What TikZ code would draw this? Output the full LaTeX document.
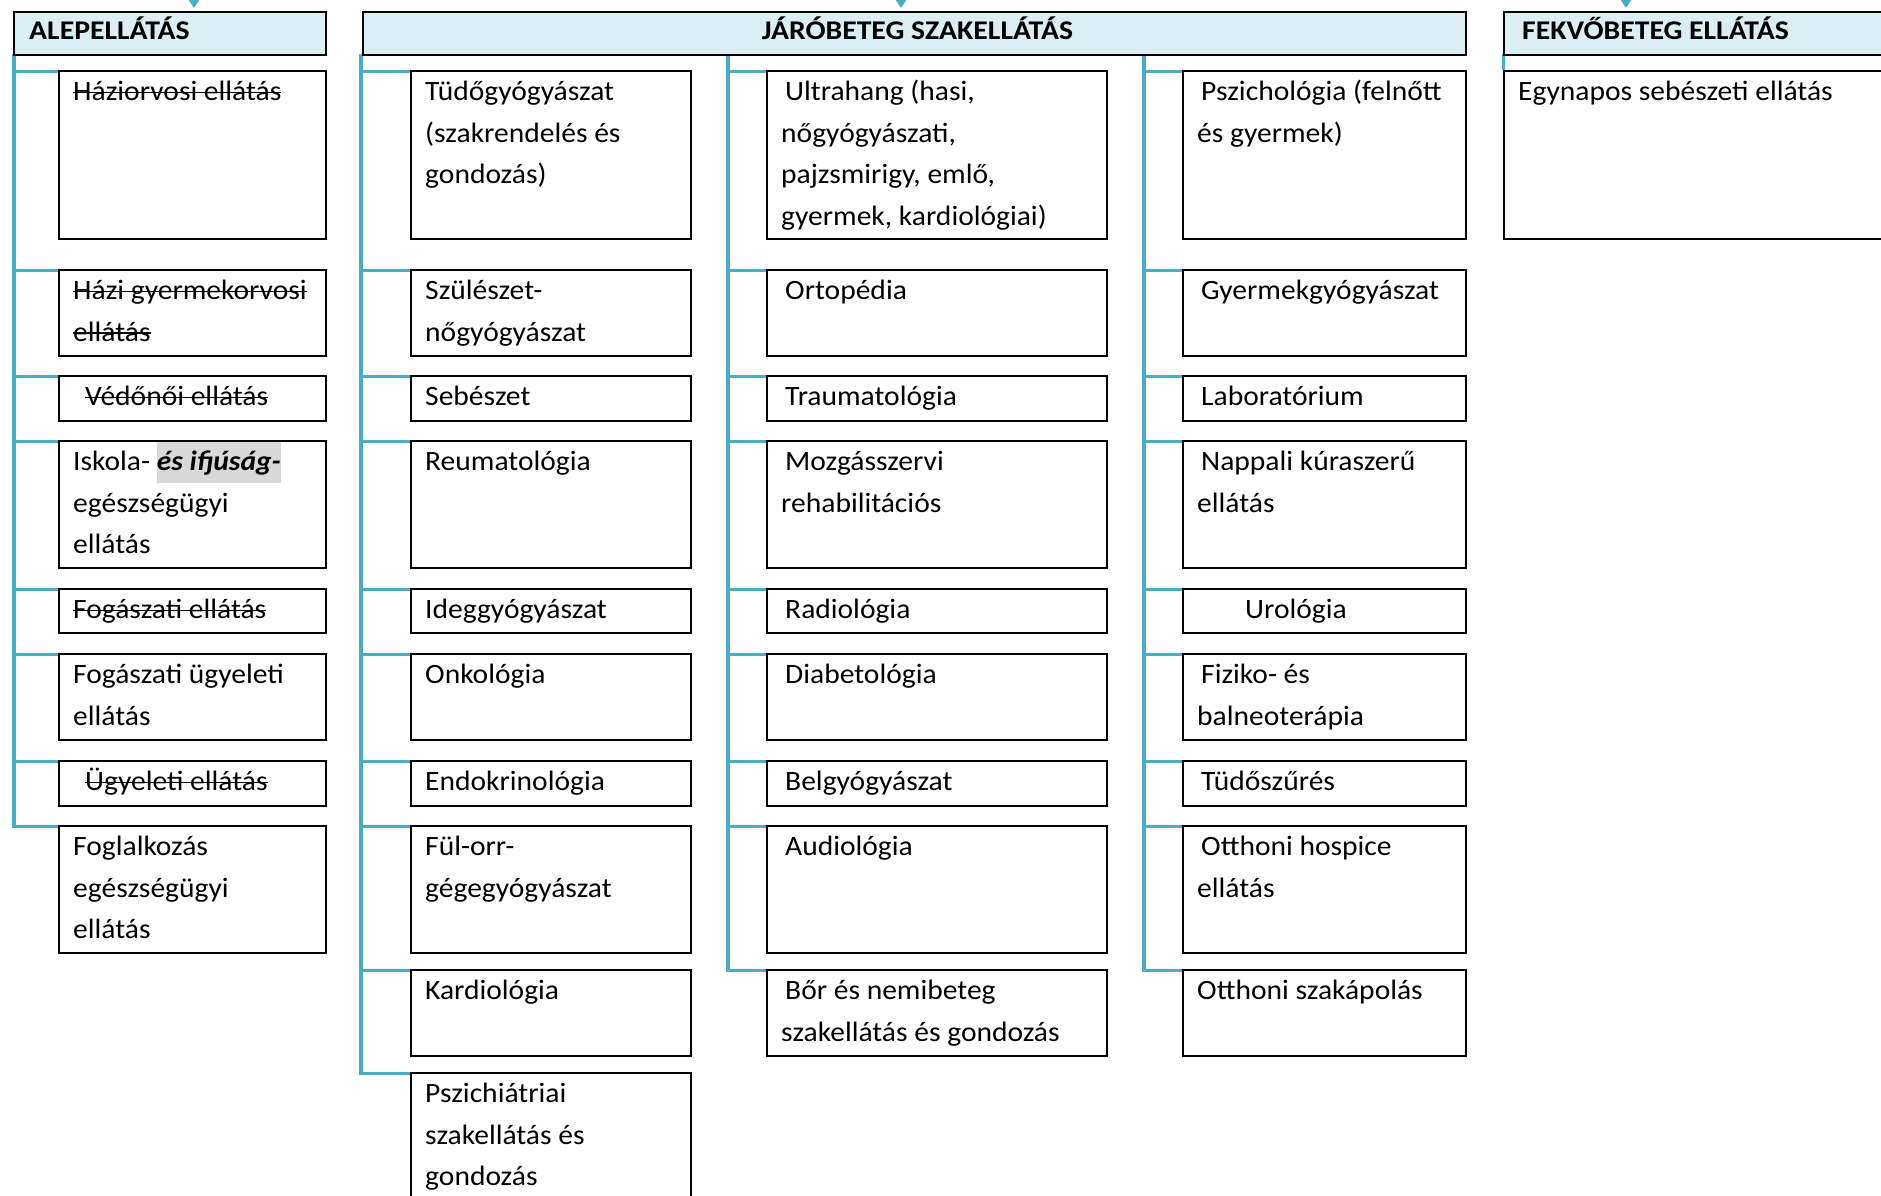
\documentclass[tikz,border=0pt]{standalone}
\usepackage{fontspec}
\setmainfont{Carlito}[FakeStretch=1.055]
\newfontfamily\headfont{Carlito}[FakeStretch=1.1]
\usetikzlibrary{arrows.meta}
\definecolor{accent}{HTML}{4BACC6}
\definecolor{headfill}{HTML}{DAEEF3}
\definecolor{hlgray}{HTML}{D9D9D9}
\newcommand{\strk}[1]{{\setbox0\hbox{#1}\rlap{\rule[0.55ex]{\wd0}{1.8pt}}\box0}}
\newcommand{\hlt}[1]{{\setlength{\fboxsep}{0pt}\colorbox{hlgray}{\strut\textbf{\textit{#1}}}}}
\newcommand{\firstind}{\hspace*{4pt}}
\begin{document}
\begin{tikzpicture}[
  x=1pt,
  y=-1pt,
  line join=miter,
  head/.style={draw=black,fill=headfill,line width=2pt,anchor=north west,minimum height=43,inner sep=0pt},
  cell/.style={draw=black,line width=2pt,anchor=north west,inner sep=0pt},
  txt/.style={anchor=north west,inner sep=0pt,align=left,font=\fontsize{28}{41.5}\selectfont},
  htxt/.style={anchor=base west,inner sep=0pt,font=\headfont\fontsize{27}{34}\selectfont\bfseries},
  branch/.style={draw=accent,line width=3.3pt},
  feed/.style={draw=accent,line width=3.3pt,-{Triangle[width=18pt,length=14pt]},shorten >=3pt}
]
  \useasboundingbox (0,0) rectangle (1881,1195);
  \clip (0,0) rectangle (1881,1195);

  % Alapellátás column.
  \foreach \cn/\cy/\ch/\ct in {
    1/70/168/{\strk{Háziorvosi ellátás}},
    2/269/86/{\strk{Házi gyermekorvosi}\\\strk{ellátás}},
    3/375/45/{\hspace*{12pt}\strk{Védőnői ellátás}},
    4/440/127/{Iskola- \hlt{és ifjúság-}\\egészségügyi\\ellátás},
    5/588/44/{\strk{Fogászati ellátás}},
    6/653/86/{Fogászati ügyeleti\\ellátás},
    7/760/45/{\hspace*{12pt}\strk{Ügyeleti ellátás}},
    8/825/127/{Foglalkozás\\egészségügyi\\ellátás}} {
    \node[cell,minimum width=267,minimum height=\ch] (a\cn) at (58,\cy) {};
    \node[txt] (a\cn-t) at ([shift={(15,1.5)}]a\cn.north west) {\strut\ct};
  }

  % Járóbeteg szakellátás, first column.
  \foreach \cn/\cy/\ch/\ct in {
    1/70/168/{Tüdőgyógyászat\\(szakrendelés és\\gondozás)},
    2/269/86/{Szülészet-\\nőgyógyászat},
    3/375/45/{Sebészet},
    4/440/127/{Reumatológia},
    5/588/44/{Ideggyógyászat},
    6/653/86/{Onkológia},
    7/760/45/{Endokrinológia},
    8/825/127/{Fül-orr-\\gégegyógyászat},
    9/969/86/{Kardiológia},
    10/1072/160/{Pszichiátriai\\szakellátás és\\gondozás}} {
    \node[cell,minimum width=280,minimum height=\ch] (b\cn) at (410,\cy) {};
    \node[txt] (b\cn-t) at ([shift={(15,1.5)}]b\cn.north west) {\strut\ct};
  }

  % Járóbeteg szakellátás, second column.
  \foreach \cn/\cy/\ch/\ct in {
    1/70/168/{\firstind Ultrahang (hasi,\\nőgyógyászati,\\pajzsmirigy, emlő,\\gyermek, kardiológiai)},
    2/269/86/{\firstind Ortopédia},
    3/375/45/{\firstind Traumatológia},
    4/440/127/{\firstind Mozgásszervi\\rehabilitációs},
    5/588/44/{\firstind Radiológia},
    6/653/86/{\firstind Diabetológia},
    7/760/45/{\firstind Belgyógyászat},
    8/825/127/{\firstind Audiológia},
    9/969/86/{\firstind Bőr és nemibeteg\\szakellátás és gondozás}} {
    \node[cell,minimum width=340,minimum height=\ch] (c\cn) at (766,\cy) {};
    \node[txt] (c\cn-t) at ([shift={(15,1.5)}]c\cn.north west) {\strut\ct};
  }

  % Járóbeteg szakellátás, third column.
  \foreach \cn/\cy/\ch/\ct in {
    1/70/168/{\firstind Pszichológia (felnőtt\\és gyermek)},
    2/269/86/{\firstind Gyermekgyógyászat},
    3/375/45/{\firstind Laboratórium},
    4/440/127/{\firstind Nappali kúraszerű\\ellátás},
    5/588/44/{\hspace*{48pt}Urológia},
    6/653/86/{\firstind Fiziko- és\\balneoterápia},
    7/760/45/{\firstind Tüdőszűrés},
    8/825/127/{\firstind Otthoni hospice\\ellátás},
    9/969/86/{Otthoni szakápolás}} {
    \node[cell,minimum width=283,minimum height=\ch] (d\cn) at (1182,\cy) {};
    \node[txt] (d\cn-t) at ([shift={(15,1.5)}]d\cn.north west) {\strut\ct};
  }

  % Fekvőbeteg ellátás.
  \node[cell,minimum width=430,minimum height=168] (e1) at (1503,70) {};
  \node[txt] (e1-t) at ([shift={(15,1.5)}]e1.north west) {\strut Egynapos sebészeti ellátás};

  % Blue spines with their branches.
  \coordinate (spA) at (14,54);
  \coordinate (spB) at (361,54);
  \coordinate (spC) at (728,54);
  \coordinate (spD) at (1144,54);
  \coordinate (spE) at (1503.5,54);
  \foreach \i in {1,...,8} {
    \draw[branch] ([yshift=-1.5pt]a\i.north west) -| (spA);
  }
  \foreach \i in {1,...,10} {
    \draw[branch] ([yshift=-1.5pt]b\i.north west) -| (spB);
  }
  \foreach \i in {1,...,9} {
    \draw[branch] ([yshift=-1.5pt]c\i.north west) -| (spC);
    \draw[branch] ([yshift=-1.5pt]d\i.north west) -| (spD);
  }
  \draw[branch] (spE) -- (spE |- e1.north);

  % Headers.
  \node[head,minimum width=312] (heA) at (13,11) {};
  \node[head,minimum width=1103] (heB) at (362,11) {};
  \node[head,minimum width=430] (heE) at (1503,11) {};
  \node[htxt] (heA-t) at ([shift={(16,28)}]heA.north west) {ALEPELLÁTÁS};
  \node[htxt,anchor=base] (heB-t) at ([shift={(3,28)}]heB.north) {JÁRÓBETEG SZAKELLÁTÁS};
  \node[htxt] (heE-t) at ([shift={(19,28)}]heE.north west) {FEKVŐBETEG ELLÁTÁS};

  % Incoming arrows from above.
  \coordinate (inA) at (194,-40);
  \coordinate (inB) at (901,-40);
  \coordinate (inE) at (1626,-40);
  \foreach \p/\q in {inA/heA,inB/heB,inE/heE} {
    \draw[feed] (\p) -- (\p |- \q.north);
  }
\end{tikzpicture}
\end{document}
